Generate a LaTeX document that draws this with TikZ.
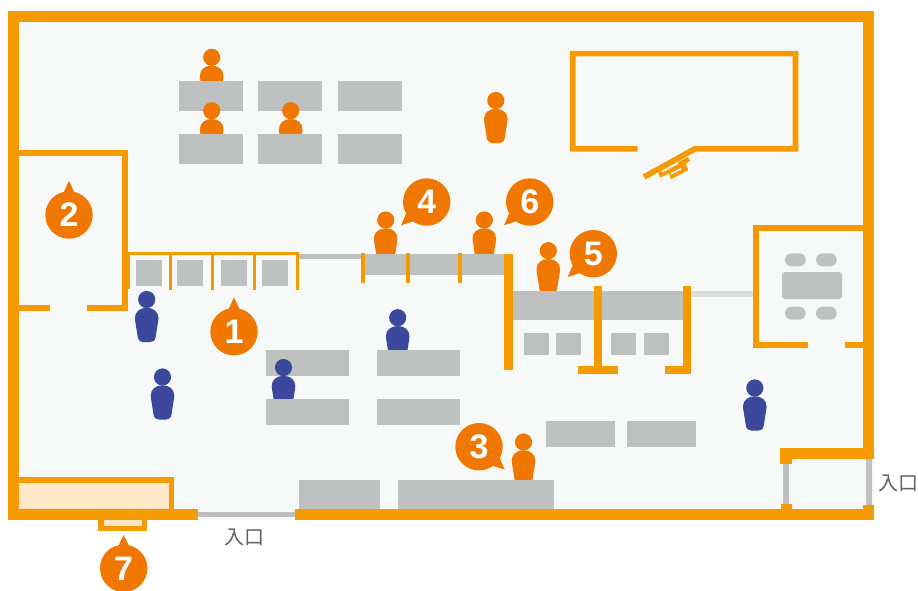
\documentclass[tikz,border=0pt]{standalone}
\usepackage{fontspec}
\usetikzlibrary{calc}
\setmainfont{Liberation Sans}
\newfontfamily\cjkfont{Noto Sans CJK JP}
\definecolor{wallc}{HTML}{F59A00}
\definecolor{badgec}{HTML}{F07800}
\definecolor{bluec}{HTML}{3C489C}
\definecolor{deskc}{HTML}{BFC1C0}
\definecolor{floorc}{HTML}{F7F9F8}
\definecolor{paleline}{HTML}{DDDFDE}
\definecolor{creamc}{HTML}{FEE6C7}
\tikzset{
  wallfill/.style={fill=wallc,draw=none},
  deskbox/.style={fill=deskc,draw=none},
  wall/.style={draw=wallc,line cap=butt,line join=miter},
  doorline/.style={draw=deskc,line width=5.6pt},
  entrylabel/.style={text=black!62,font=\cjkfont\fontsize{20}{20}\selectfont,inner sep=0pt},
  badgenum/.style={text=white,font=\bfseries\fontsize{34}{34}\selectfont,inner sep=0pt},
  person/.pic={
    \fill (0,0) circle (8.6);
    \fill (0,8.3) .. controls (6.5,8.3) and (11.8,12) .. (11.8,18.5)
      .. controls (11.8,21) and (10,30) .. (9,37.5)
      .. controls (8.4,41.5) and (5.5,42.7) .. (3,42.7) -- (-3,42.7)
      .. controls (-5.5,42.7) and (-8.4,41.5) .. (-9,37.5)
      .. controls (-10,30) and (-11.8,21) .. (-11.8,18.5)
      .. controls (-11.8,12) and (-6.5,8.3) .. (0,8.3) -- cycle;
  }
}
\newcommand{\deskat}[4]{\fill[deskbox] (#1,#2) rectangle (#3,#4);}
\newcommand{\wallrect}[4]{\fill[wallfill] (#1,#2) rectangle (#3,#4);}
% badge: name, cx, cy, tip x, tip y, digit
\newcommand{\badge}[6]{%
  \coordinate (#1c) at (#2,#3);
  \coordinate (#1t) at (#4,#5);
  \fill[badgec] (#1c) circle (23.7);
  \fill[badgec] (#1t) -- ($(#1c)!22pt!16:(#1t)$) -- (#1c) -- ($(#1c)!22pt!-16:(#1t)$) -- cycle;
  \node[badgenum] (#1) at (#2,#3) {#6};
}
\begin{document}
\begin{tikzpicture}[x=1pt,y=-1pt]
\useasboundingbox (0,0) rectangle (918,590);
% floor
\fill[floorc] (8,11) rectangle (874,520);
% paler and grey lines
\draw[doorline] (298,256.6) -- (362,256.6);
\draw[draw=paleline,line width=5.6pt] (690,293.8) -- (754,293.8);
\draw[doorline] (197,514.5) -- (296,514.5);
\draw[doorline] (785.8,462) -- (785.8,506);
\draw[doorline] (868.8,458) -- (868.8,506);
% people behind the back rows
\pic[fill=badgec] at (211.7,57.3) {person};
\pic[fill=bluec] at (397.7,317.7) {person};
% desks, back row
\deskat{179}{81}{243}{111}
\deskat{258}{81}{322}{111}
\deskat{338}{81}{402}{111}
\deskat{266}{350}{349}{376}
\deskat{377}{350}{460}{376}
% people
\pic[fill=bluec] at (146.7,299.5) {person};
\pic[fill=bluec] at (162.5,377) {person};
\pic[fill=bluec] at (283.5,367.5) {person};
\pic[fill=bluec] at (754.8,388) {person};
\pic[fill=badgec] at (211.7,110.7) {person};
\pic[fill=badgec] at (290.7,110.7) {person};
\pic[fill=badgec] at (495.8,100.5) {person};
\pic[fill=badgec] at (385.7,220) {person};
\pic[fill=badgec] at (484.3,220) {person};
\pic[fill=badgec] at (548.3,250.7) {person};
\pic[fill=badgec] at (523.5,442) {person};
% desks, front rows
\deskat{179}{134}{243}{164}
\deskat{258}{134}{322}{164}
\deskat{338}{134}{402}{164}
\deskat{266}{399}{349}{425}
\deskat{377}{399}{460}{425}
\deskat{546}{421}{615}{447}
\deskat{627}{421}{696}{447}
\deskat{299}{480}{380}{510}
\deskat{398}{480}{554}{510}
% counters
\deskat{365}{254}{505}{275}
\deskat{512}{291}{684}{320}
% stall stools
\deskat{136}{260}{162}{286}
\deskat{177}{260}{203}{286}
\deskat{221}{260}{247}{286}
\deskat{262}{260}{288}{286}
\deskat{524}{333}{549}{355}
\deskat{556}{333}{581}{355}
\deskat{611}{333}{636}{355}
\deskat{644}{333}{669}{355}
% meeting table
\fill[deskc,rounded corners=3pt] (782,272) rectangle (842,299);
\fill[deskc,rounded corners=6.4pt] (785,253.3) rectangle (805.7,266.3);
\fill[deskc,rounded corners=6.4pt] (816,253.3) rectangle (836.7,266.3);
\fill[deskc,rounded corners=6.4pt] (785,306.7) rectangle (805.7,319.7);
\fill[deskc,rounded corners=6.4pt] (816,306.7) rectangle (836.7,319.7);
% storage rooms (cream)
\fill[creamc] (19,483) rectangle (169,509);
\fill[creamc] (104,520) rectangle (142,526);
\draw[wall,line width=5.6pt] (19,480.2) -- (171.5,480.2) -- (171.5,510);
\draw[wall,line width=5.6pt] (101.2,520) -- (101.2,528.5) -- (144.5,528.5) -- (144.5,520);
% outer wall
\draw[wall,line width=11pt] (13.5,520) -- (13.5,16.5) -- (868.8,16.5) -- (868.8,459);
\wallrect{8}{509}{197.7}{520.3}
\wallrect{295}{509}{874.3}{520.3}
\wallrect{780}{448.3}{874.3}{459.3}
\wallrect{780}{459}{791.7}{464.3}
\wallrect{780.7}{504}{792}{510}
\wallrect{863}{505}{874.3}{510}
% room 2
\draw[wall,line width=5.7pt] (19,153) -- (125,153) -- (125,307.8) -- (87,307.8);
\draw[wall,line width=5.7pt] (19,307.8) -- (49.7,307.8);
% stalls
\draw[wall,line width=3pt] (128,253.5) -- (297.3,253.5) -- (297.3,290);
\draw[wall,line width=3pt] (170,253.5) -- (170,290);
\draw[wall,line width=3pt] (212.3,253.5) -- (212.3,290);
\draw[wall,line width=3pt] (254.7,253.5) -- (254.7,290);
\wallrect{122}{253}{129.7}{289}
% counter posts
\wallrect{361.3}{253}{365.3}{283}
\wallrect{406}{253}{410}{283}
\wallrect{457.7}{253}{461.7}{283}
\wallrect{504.3}{253.7}{512.7}{370}
\wallrect{593.7}{286.3}{601.7}{374}
\wallrect{578}{365.7}{618}{374}
\wallrect{683}{286.3}{691}{374}
\wallrect{665}{365.7}{691}{374}
% meeting room
\draw[wall,line width=5.6pt] (863,227.8) -- (755.8,227.8) -- (755.8,345) -- (808,345);
\draw[wall,line width=5.6pt] (845,345) -- (863,345);
% big room
\draw[wall,line width=5.7pt] (637.7,148.8) -- (572.8,148.8) -- (572.8,53.6) -- (795.5,53.6) -- (795.5,148.8) -- (695,148.8) -- (644,177);
\fill[wallc] (658.3,172.7) -- (660,177.7) -- (669,173.3) -- (671,179.3) -- (688.3,170) -- (685.7,164) -- (690,160.7) -- (688,157) -- cycle;
\draw[floorc,line width=1.6pt] (662,171.7) -- (678,163.3);
\draw[floorc,line width=1.6pt] (671,173.8) -- (681,168.8);
% entrance labels
\node[entrylabel] (entryA) at (244.5,537) {入口};
\node[entrylabel] (entryB) at (898,483) {入口};
% badges
\badge{b1}{234}{331.7}{234}{297.3}{1}
\badge{b2}{69}{215}{69}{180.7}{2}
\badge{b3}{479}{446.7}{504.7}{469.5}{3}
\badge{b4}{426.7}{202}{401}{225.3}{4}
\badge{b5}{593.3}{253.7}{567.7}{277}{5}
\badge{b6}{529.7}{202}{504}{225.3}{6}
\badge{b7}{123.7}{568.3}{123.7}{535}{7}
\end{tikzpicture}
\end{document}
